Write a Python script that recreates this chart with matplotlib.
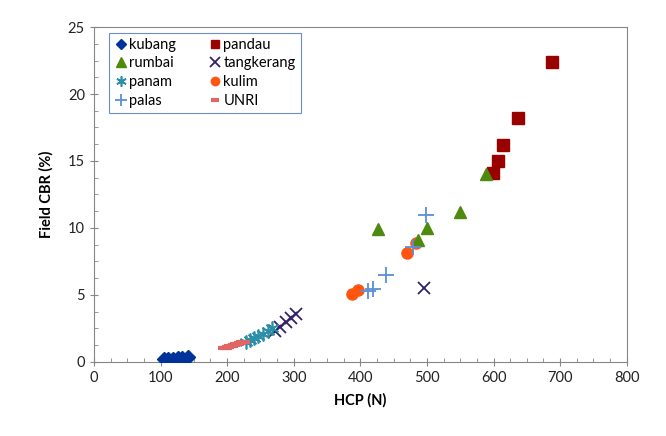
import matplotlib
matplotlib.use("Agg")
import matplotlib.pyplot as plt
from matplotlib.ticker import MultipleLocator

plt.rcParams["font.family"] = ["Lato", "DejaVu Sans"]

# data
kubang_x = [105, 112, 119, 126, 133, 141]
kubang_y = [0.2, 0.22, 0.25, 0.28, 0.3, 0.35]

pandau_x = [599, 607, 615, 637, 688]
pandau_y = [14.1, 15.0, 16.2, 18.2, 22.4]

rumbai_x = [427, 486, 500, 549, 588]
rumbai_y = [9.9, 9.1, 10.0, 11.2, 14.0]

tangkerang_x = [272, 280, 288, 296, 303, 495]
tangkerang_y = [2.3, 2.6, 3.0, 3.3, 3.6, 5.5]

panam_x = [228, 234, 240, 247, 254, 262, 268]
panam_y = [1.5, 1.65, 1.8, 1.95, 2.1, 2.3, 2.5]

kulim_x = [388, 396, 470, 483]
kulim_y = [5.05, 5.35, 8.15, 8.85]

palas_x = [412, 419, 439, 479, 499]
palas_y = [5.3, 5.45, 6.5, 8.6, 11.0]

unri_x = [196, 199, 202, 205, 208, 211, 214, 217, 220, 223, 226]
unri_y = [1.0, 1.05, 1.1, 1.15, 1.2, 1.25, 1.3, 1.35, 1.4, 1.45, 1.5]

fig = plt.figure(figsize=(6.66, 4.36), dpi=100)
ax = fig.add_axes([0.141, 0.170, 0.800, 0.768])

h = {}
h["kubang"], = ax.plot(kubang_x, kubang_y, marker="D", color="#003399", ms=7, ls="none", zorder=3)
h["pandau"], = ax.plot(pandau_x, pandau_y, marker="s", color="#990000", ms=8, ls="none", zorder=3)
h["rumbai"], = ax.plot(rumbai_x, rumbai_y, marker="^", color="#4E8A0E", ms=9, ls="none", zorder=4)
h["tangkerang"], = ax.plot(tangkerang_x, tangkerang_y, marker="x", color="#332266", ms=9, mew=1.3, ls="none", zorder=3)
h["panam"], = ax.plot(panam_x, panam_y, marker=(6, 2, 0), color="#2A8FA8", ms=10, mew=1.2, ls="none", zorder=3)
h["kulim"], = ax.plot(kulim_x, kulim_y, marker="o", color="#FF5511", ms=8, ls="none", zorder=3)
h["palas"], = ax.plot(palas_x, palas_y, marker="+", color="#5B8FD8", ms=12, mew=1.3, ls="none", zorder=5)
h["UNRI"], = ax.plot(unri_x, unri_y, marker="_", color="#E06666", ms=8, mew=3, ls="none", zorder=3)

ax.set_xlim(0, 800)
ax.set_ylim(0, 25)
ax.xaxis.set_major_locator(MultipleLocator(100))
ax.xaxis.set_minor_locator(MultipleLocator(25))
ax.yaxis.set_major_locator(MultipleLocator(5))
ax.yaxis.set_minor_locator(MultipleLocator(1.25))

for s in ax.spines.values():
    s.set_color("#868686")
ax.tick_params(which="major", direction="inout", length=6, color="#868686",
               labelsize=10.5, labelcolor="#222222")
ax.tick_params(which="minor", direction="in", length=3, color="#868686")

ax.set_xlabel("HCP (N)", fontsize=10.5, fontweight="bold", labelpad=6)
ax.set_ylabel("Field CBR (%)", fontsize=10.5, fontweight="bold", labelpad=10)

# legend filled row by row, like the original
order = ["kubang", "rumbai", "panam", "palas", "pandau", "tangkerang", "kulim", "UNRI"]
leg = ax.legend([h[k] for k in order], order, ncol=2, loc="upper left",
                bbox_to_anchor=(0.014, 1.005),
                fontsize=10.5, frameon=True, fancybox=False, handletextpad=0.05,
                handlelength=1.0, columnspacing=2.2, labelspacing=0.32,
                borderpad=0.35, markerscale=0.75)
leg.get_frame().set_edgecolor("#4472C4")
leg.get_frame().set_linewidth(0.8)

fig.savefig("out.png", dpi=100)
